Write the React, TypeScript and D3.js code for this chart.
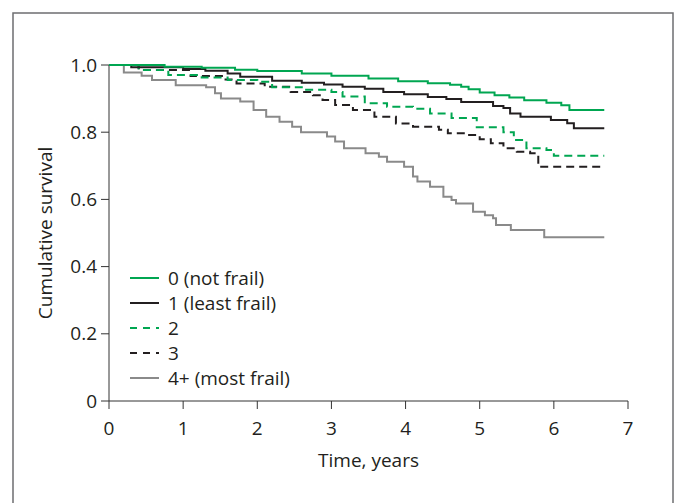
import React from "react";
import * as d3 from "d3";

const xTicks = [0, 1, 2, 3, 4, 5, 6, 7];
const yTicks = [0, 0.2, 0.4, 0.6, 0.8, 1.0];
const yTickLabels = ["0", "0.2", "0.4", "0.6", "0.8", "1.0"];

const s0Time = [0, 0.75, 1.25, 1.7, 2.0, 2.6, 3.0, 3.5, 3.9, 4.3, 4.6, 4.75, 4.85, 5.0, 5.2, 5.4, 5.6, 5.9, 6.1, 6.21, 6.68];
const s0Surv = [1.0, 0.995, 0.992, 0.986, 0.982, 0.975, 0.968, 0.96, 0.952, 0.946, 0.941, 0.935, 0.928, 0.918, 0.91, 0.903, 0.895, 0.888, 0.88, 0.866, 0.866];

const s1Time = [0, 0.3, 1.0, 1.3, 1.6, 1.77, 2.2, 2.6, 2.9, 3.15, 3.45, 3.7, 3.98, 4.3, 4.55, 4.75, 5.18, 5.32, 5.41, 5.55, 5.96, 6.18, 6.27, 6.68];
const s1Surv = [1.0, 0.993, 0.988, 0.983, 0.975, 0.965, 0.953, 0.947, 0.942, 0.935, 0.929, 0.92, 0.913, 0.905, 0.899, 0.89, 0.878, 0.872, 0.856, 0.846, 0.836, 0.827, 0.812, 0.812];

const s2Time = [0, 0.4, 0.8, 1.25, 1.6, 2.0, 2.2, 2.6, 3.0, 3.15, 3.45, 3.75, 4.1, 4.33, 4.62, 4.96, 5.32, 5.46, 5.63, 5.9, 6.0, 6.68];
const s2Surv = [1.0, 0.985, 0.97, 0.963, 0.955, 0.95, 0.934, 0.926, 0.92, 0.906, 0.886, 0.876, 0.87, 0.856, 0.842, 0.815, 0.8, 0.777, 0.752, 0.747, 0.73, 0.73];

const s3Time = [0, 0.4, 1.1, 1.54, 1.72, 2.1, 2.45, 2.75, 2.88, 3.05, 3.29, 3.58, 3.87, 4.1, 4.45, 4.57, 4.8, 5.0, 5.15, 5.32, 5.5, 5.68, 5.79, 6.68];
const s3Surv = [1.0, 0.985, 0.967, 0.957, 0.945, 0.935, 0.92, 0.91, 0.896, 0.881, 0.866, 0.846, 0.826, 0.816, 0.807, 0.797, 0.792, 0.779, 0.767, 0.752, 0.742, 0.737, 0.697, 0.697];

const s4Time = [0, 0.2, 0.44, 0.58, 0.9, 1.31, 1.43, 1.51, 1.77, 1.95, 2.12, 2.3, 2.47, 2.59, 2.94, 3.05, 3.17, 3.46, 3.64, 3.75, 3.98, 4.1, 4.16, 4.33, 4.51, 4.62, 4.68, 4.91, 5.07, 5.18, 5.22, 5.42, 5.87, 6.68];
const s4Surv = [1.0, 0.978, 0.968, 0.955, 0.94, 0.934, 0.916, 0.9, 0.891, 0.866, 0.846, 0.831, 0.816, 0.8, 0.787, 0.772, 0.752, 0.737, 0.727, 0.712, 0.697, 0.668, 0.653, 0.638, 0.608, 0.598, 0.588, 0.563, 0.553, 0.544, 0.524, 0.509, 0.487, 0.487];

const seriesLabels = ["0 (not frail)", "1 (least frail)", "2", "3", "4+ (most frail)"];

const GREEN = "#00a651";
const BLACK = "#231f20";
const GRAY = "#8a8a8a";

const styles = [
  { color: GREEN, dash: null, legendDash: null },
  { color: BLACK, dash: null, legendDash: null },
  { color: GREEN, dash: "8 5", legendDash: "7 6" },
  { color: BLACK, dash: "8 5", legendDash: "7 6" },
  { color: GRAY, dash: null, legendDash: null },
];

const seriesData = [
  [s0Time, s0Surv],
  [s1Time, s1Surv],
  [s2Time, s2Surv],
  [s3Time, s3Surv],
  [s4Time, s4Surv],
];

const FONT = "'Open Sans', 'Noto Sans', sans-serif";
const FS = 19;

export default function App() {
  const W = 676, H = 503;
  const left = 109, right = 628, top = 65, bottom = 401;
  const x = d3.scaleLinear().domain([0, 7]).range([left, right]);
  const y = d3.scaleLinear().domain([0, 1]).range([bottom, top]);
  const line = d3
    .line<[number, number]>()
    .x((d) => x(d[0]))
    .y((d) => y(d[1]))
    .curve(d3.curveStepAfter);

  const drawOrder = [4, 3, 2, 1, 0];
  const legendY0 = 278;
  const legendStep = 25;

  return (
    <svg width={W} height={H} style={{ position: "absolute", left: 0, top: 0, background: "#fff" }}>
      <rect x={13} y={13} width={660} height={510} fill="none" stroke="#6d6e70" strokeWidth={1.5} />
      <line x1={left} x2={left} y1={top} y2={bottom} stroke="#333" strokeWidth={1} />
      <line x1={left} x2={right} y1={bottom} y2={bottom} stroke="#333" strokeWidth={1} />
      {yTicks.map((t, i) => (
        <g key={"y" + i}>
          <line x1={left - 8} x2={left} y1={y(t)} y2={y(t)} stroke="#333" strokeWidth={1} />
          <text x={left - 12} y={y(t)} dy="0.35em" textAnchor="end" fontFamily={FONT} fontSize={FS} fill="#231f20">
            {yTickLabels[i]}
          </text>
        </g>
      ))}
      {xTicks.map((t, i) => (
        <g key={"x" + i}>
          <line x1={x(t)} x2={x(t)} y1={bottom} y2={bottom + 8} stroke="#333" strokeWidth={1} />
          <text x={x(t)} y={bottom + 27} dy="0.35em" textAnchor="middle" fontFamily={FONT} fontSize={FS} fill="#231f20">
            {t}
          </text>
        </g>
      ))}
      <text x={(left + right) / 2} y={460} dy="0.35em" textAnchor="middle" fontFamily={FONT} fontSize={FS} fill="#231f20">
        Time, years
      </text>
      <text
        transform={`translate(45, ${(top + bottom) / 2}) rotate(-90)`}
        dy="0.35em"
        textAnchor="middle"
        fontFamily={FONT}
        fontSize={FS}
        fill="#231f20"
      >
        Cumulative survival
      </text>
      {drawOrder.map((si) => {
        const [ts, ss] = seriesData[si];
        const pts: [number, number][] = ts.map((t, j) => [t, ss[j]]);
        return (
          <path
            key={"s" + si}
            d={line(pts) || ""}
            fill="none"
            stroke={styles[si].color}
            strokeWidth={2}
            strokeDasharray={styles[si].dash || undefined}
          />
        );
      })}
      {seriesLabels.map((lab, i) => {
        const ly = legendY0 + i * legendStep;
        return (
          <g key={"l" + i}>
            <line
              x1={130}
              x2={159}
              y1={ly}
              y2={ly}
              stroke={styles[i].color}
              strokeWidth={2}
              strokeDasharray={styles[i].legendDash || undefined}
            />
            <text x={168} y={ly} dy="0.35em" fontFamily={FONT} fontSize={FS} fill="#231f20">
              {lab}
            </text>
          </g>
        );
      })}
    </svg>
  );
}
